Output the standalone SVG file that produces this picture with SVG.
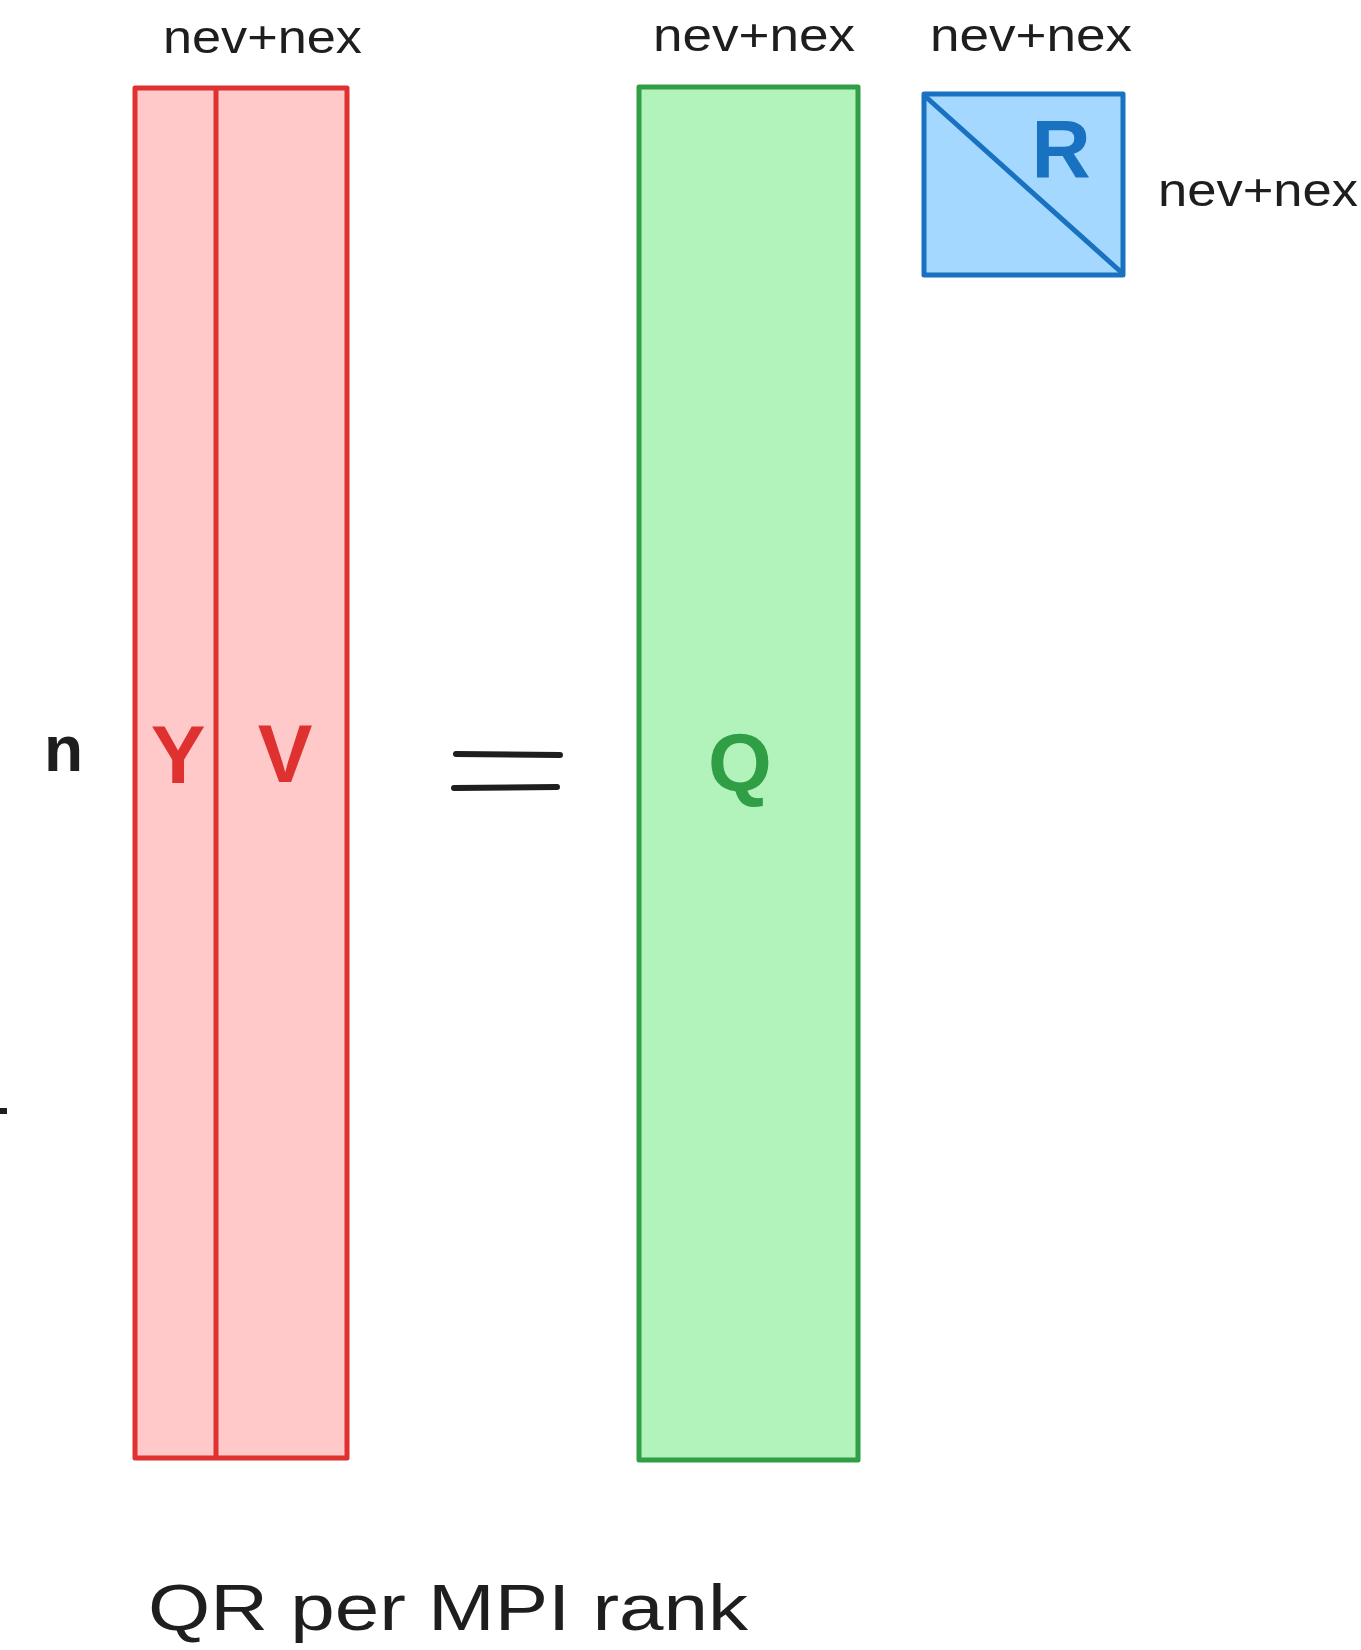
<svg xmlns="http://www.w3.org/2000/svg" width="1361" height="1650" viewBox="0 0 1361 1650">
  <style>
    .lbl { font-family: "Liberation Sans", Arial, sans-serif; fill: #1e1e1e; }
    .dim { font-size: 46px; }
    .big { font-size: 82px; font-weight: bold; }
    .box { stroke-width: 5; stroke-linejoin: round; stroke-linecap: round; }
    .red { stroke: #e03131; fill: #ffc9c9; }
    .green { stroke: #2f9e44; fill: #b2f2bb; }
    .blue { stroke: #1971c2; fill: #a5d8ff; }
  </style>

  <rect width="1361" height="1650" fill="#ffffff"/>

  <!-- dimension labels -->
  <g id="labels">
    <text class="lbl dim" x="163" y="53" textLength="199" lengthAdjust="spacingAndGlyphs">nev+nex</text>
    <text class="lbl dim" x="653" y="51" textLength="202" lengthAdjust="spacingAndGlyphs">nev+nex</text>
    <text class="lbl dim" x="930" y="51" textLength="202" lengthAdjust="spacingAndGlyphs">nev+nex</text>
    <text class="lbl dim" x="1158" y="206" textLength="200" lengthAdjust="spacingAndGlyphs">nev+nex</text>
    <text class="lbl" x="44" y="771" font-size="64" font-weight="bold">n</text>
  </g>

  <!-- stacked block [Y | V] -->
  <g id="node-YV">
    <rect class="box red" x="135" y="88" width="212" height="1370"/>
    <line x1="216" y1="88" x2="216" y2="1458" stroke="#e03131" stroke-width="5"/>
    <text class="lbl big" x="178" y="783" text-anchor="middle" style="fill:#e03131">Y</text>
    <text class="lbl big" x="285" y="782" text-anchor="middle" style="fill:#e03131">V</text>
  </g>

  <!-- equals sign -->
  <g id="equals" stroke="#1e1e1e" stroke-width="6" stroke-linecap="round">
    <line x1="456" y1="754" x2="560" y2="755"/>
    <line x1="454" y1="788" x2="557" y2="787"/>
  </g>

  <!-- orthonormal factor Q -->
  <g id="node-Q">
    <rect class="box green" x="639" y="87" width="219" height="1373"/>
    <text class="lbl big" x="740" y="791" text-anchor="middle" style="fill:#2f9e44">Q</text>
  </g>

  <!-- upper triangular factor R -->
  <g id="node-R">
    <rect class="box blue" x="924" y="94" width="199" height="181"/>
    <line x1="926" y1="97" x2="1121" y2="272" stroke="#1971c2" stroke-width="5" stroke-linecap="round"/>
    <text class="lbl big" x="1061" y="177" text-anchor="middle" style="fill:#1971c2">R</text>
  </g>

  <!-- small tick at left margin -->
  <rect x="0" y="1108" width="7" height="6" fill="#1e1e1e"/>

  <!-- caption -->
  <g id="caption">
    <text class="lbl" x="148" y="1630" font-size="64" textLength="600" lengthAdjust="spacingAndGlyphs">QR per MPI rank</text>
  </g>
</svg>
